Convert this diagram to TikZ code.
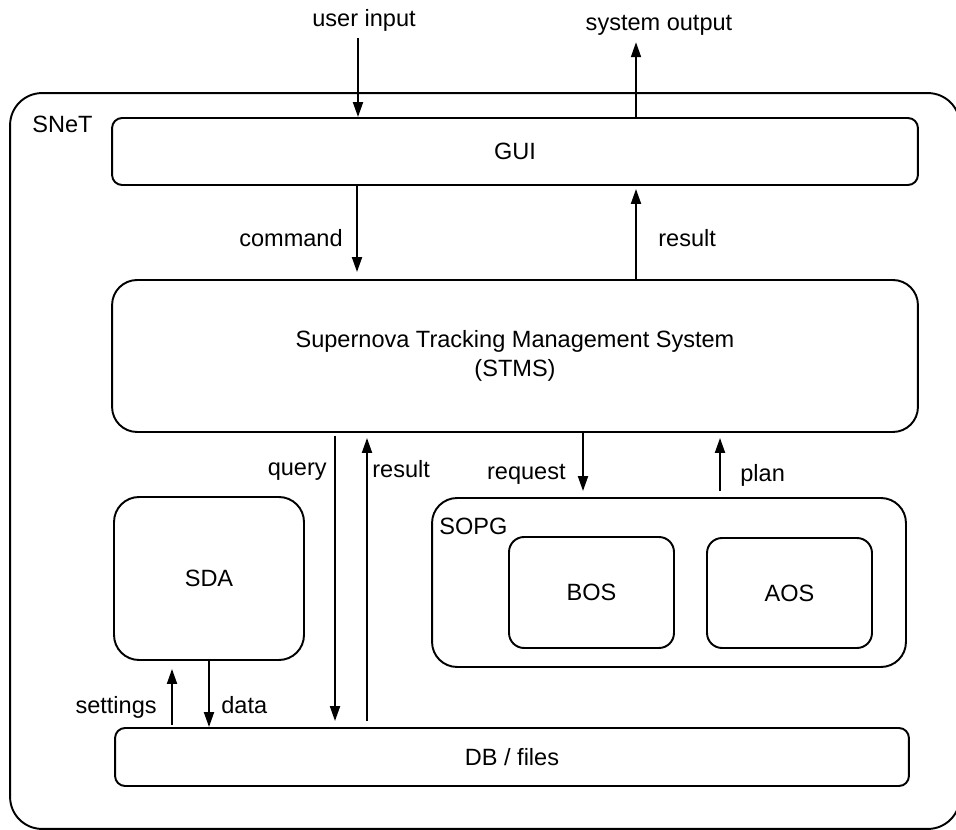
\documentclass[tikz,border=0pt]{standalone}
\usepackage{fontspec}
\setmainfont{Liberation Sans}
\usetikzlibrary{arrows.meta}

\tikzset{
  box/.style={draw, line width=1.1pt, inner sep=0pt, align=center},
  lbl/.style={inner sep=0pt},
  arr/.style={line width=1.1pt, -{Triangle[length=0.3cm, width=0.2cm]}}
}

\begin{document}
\begin{tikzpicture}[x=0.02cm, y=-0.02cm, font=\fontsize{13.4}{16.5}\selectfont]
  \useasboundingbox (0,0) rectangle (956,830);
  \clip (0,0) rectangle (956,830);

  % outer system
  \node[box, rounded corners=0.64cm, minimum width=19cm, minimum height=14.72cm] (snet) at (485,461) {};
  \node[lbl, anchor=base west] (snetname) at (32,133) {SNeT};

  % layers
  \node[box, rounded corners=0.2cm, minimum width=16.12cm, minimum height=1.34cm] (gui) at (515,151.5) {GUI};
  \node[box, rounded corners=0.5cm, minimum width=16.12cm, minimum height=3.04cm] (stms) at (515,356)
    {Supernova Tracking Management System\\(STMS)};
  \node[box, rounded corners=0.2cm, minimum width=15.88cm, minimum height=1.16cm] (db) at (512,757) {DB / files};

  % SDA
  \node[box, rounded corners=0.5cm, minimum width=3.8cm, minimum height=3.26cm] (sda) at (209,578.5) {SDA};

  % SOPG with BOS and AOS
  \node[box, rounded corners=0.5cm, minimum width=9.48cm, minimum height=3.38cm] (sopg) at (669,582.5) {};
  \node[lbl, anchor=base west] (sopgname) at (439,535) {SOPG};
  \node[box, rounded corners=0.3cm, minimum width=3.3cm, minimum height=2.22cm] (bos) at (591.5,592.5) {BOS};
  \node[box, rounded corners=0.3cm, minimum width=3.3cm, minimum height=2.2cm] (aos) at (789.5,593) {AOS};

  % outside world
  \node[lbl, anchor=base] (userin) at (364,27) {user input};
  \node[lbl, anchor=base] (sysout) at (659,31) {system output};

  % arrow columns
  \coordinate (cin) at (358,0);
  \coordinate (cout) at (636,0);
  \coordinate (ccmd) at (357,0);
  \coordinate (cres) at (636,0);
  \coordinate (cqry) at (335,0);
  \coordinate (cans) at (367,0);
  \coordinate (creq) at (583,0);
  \coordinate (cplan) at (720,0);
  \coordinate (cset) at (172,0);
  \coordinate (cdata) at (209,0);

  \draw[arr, shorten <=0.12cm] (userin.south -| cin) -- (gui.north -| cin);
  \draw[arr, shorten >=0.12cm] (gui.north -| cout) -- (sysout.south -| cout);
  \draw[arr, shorten >=0.14cm] (gui.south -| ccmd) -- (stms.north -| ccmd);
  \draw[arr, shorten >=0.06cm] (stms.north -| cres) -- (gui.south -| cres);
  \draw[arr, shorten <=0.06cm, shorten >=0.12cm] (stms.south -| cqry) -- (db.north -| cqry);
  \draw[arr, shorten <=0.12cm, shorten >=0.1cm] (db.north -| cans) -- (stms.south -| cans);
  \draw[arr, shorten >=0.12cm] (stms.south -| creq) -- (sopg.north -| creq);
  \draw[arr, shorten <=0.12cm, shorten >=0.1cm] (sopg.north -| cplan) -- (stms.south -| cplan);
  \draw[arr, shorten <=0.04cm, shorten >=0.16cm] (db.north -| cset) -- (sda.south -| cset);
  \draw[arr] (sda.south -| cdata) -- (db.north -| cdata);

  % arrow labels
  \node[lbl, anchor=base east] (cmdlbl) at (343,247) {command};
  \node[lbl, anchor=base west] (reslbl) at (658,247) {result};
  \node[lbl, anchor=base east] (qrylbl) at (327,476) {query};
  \node[lbl, anchor=base west] (anslbl) at (372,478) {result};
  \node[lbl, anchor=base east] (reqlbl) at (566,480) {request};
  \node[lbl, anchor=base west] (planlbl) at (740,482) {plan};
  \node[lbl, anchor=base east] (setlbl) at (157,713) {settings};
  \node[lbl, anchor=base west] (datalbl) at (221,713) {data};
\end{tikzpicture}
\end{document}
